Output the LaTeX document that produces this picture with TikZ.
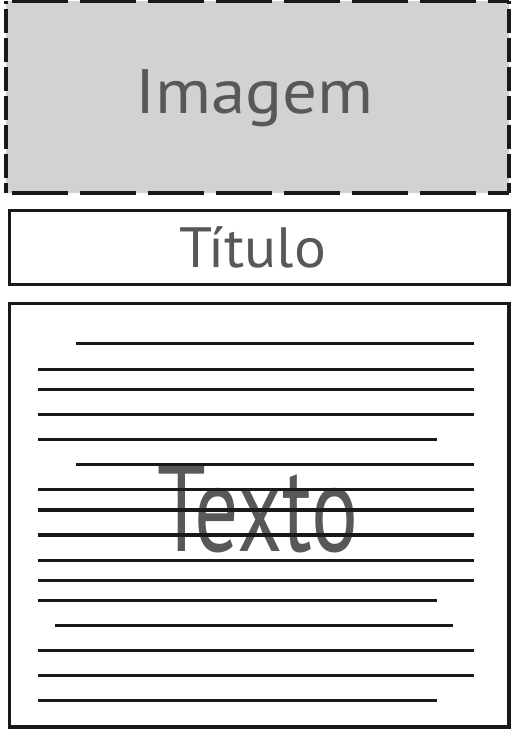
\documentclass[tikz,border=0pt]{standalone}
\usepackage{fontspec}
\setsansfont{PT Sans}
\usepackage{tikz}
\usetikzlibrary{positioning}

\definecolor{rotulo}{HTML}{58585A}
\definecolor{fundo}{HTML}{D3D2D3}

\begin{document}
\begin{tikzpicture}[
  x=1bp, y=-1bp,
  font=\sffamily,
  caixa/.style={draw=black!90, line width=3.4bp, minimum width=499.5bp, inner sep=0pt},
  rotulo/.style={text=rotulo, anchor=base, inner sep=0pt},
  linha/.style={black!90, line width=3.3bp}
]
\useasboundingbox (0,0) rectangle (512,732);
\node[fill=fundo, minimum width=503bp, minimum height=192bp, inner sep=0pt] (imagem) at (257.5,97) {};
\draw[black!90, line width=4bp, dash pattern=on 56bp off 12bp, dash phase=-6bp] (imagem.north west) -- (imagem.north east) (imagem.south west) -- (imagem.south east);
\draw[black!90, line width=4bp, dash pattern=on 24bp off 5bp, dash phase=-8bp] (imagem.north west) -- (imagem.south west) (imagem.north east) -- (imagem.south east);
\node[rotulo, font=\sffamily\fontsize{63}{63}\selectfont] (imagemtxt) at (254.5,114) {\scalebox{1.1}[1]{Imagem}};

\node[caixa, minimum height=74bp] (titulo) at (259.25,247.5) {};
\node[rotulo, font=\sffamily\fontsize{57}{57}\selectfont] (titulotxt) at (253,267) {\scalebox{1.05}[1]{Título}};

\node[caixa, minimum height=423.5bp] (texto) at (259.25,515.25) {};
\node[rotulo, font=\sffamily\fontsize{124}{124}\selectfont] (textotxt) at (257.5,551.7) {\scalebox{0.71}[1]{Texto}};
\foreach \y/\a/\b in {343.7/76/474, 369.3/38/474, 389.3/38/474, 414.7/38/474, 439.7/38/437,
  464.7/76/474, 489.7/38/474, 510/38/474, 535/38/474, 560.3/38/474, 580.3/38/474,
  600.7/38/437, 625.3/55/453, 650.7/38/474, 675.7/38/474, 700.7/38/437}
  \draw[linha] (\a,\y) -- (\b,\y);
\end{tikzpicture}
\end{document}
